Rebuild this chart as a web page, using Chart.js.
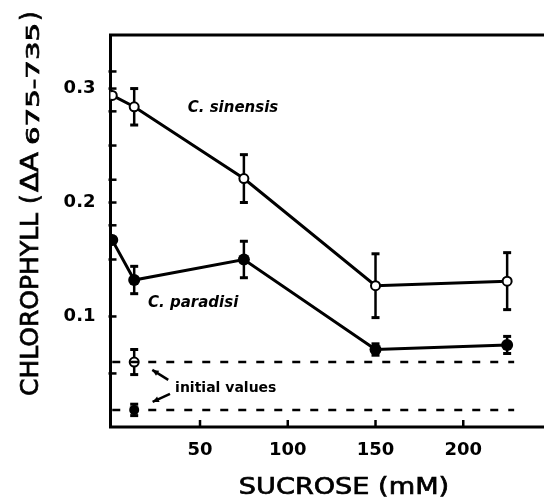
<!DOCTYPE html>
<html>
<head>
<meta charset="utf-8">
<script src="https://cdn.jsdelivr.net/npm/chart.js@4"></script>
<style>
  html, body { margin: 0; padding: 0; background: #fff; }
  #wrap { width: 544px; height: 502px; }
</style>
</head>
<body>
<div id="wrap"><canvas id="myChart"></canvas></div>
<script>
// values
var sucrose = [0, 12.5, 75, 150, 225];
var sinensis = [0.294, 0.284, 0.221, 0.127, 0.131];
var sinensisErr = [0, 0.016, 0.021, 0.028, 0.025];
var paradisi = [0.167, 0.132, 0.150, 0.071, 0.075];
var paradisiErr = [0, 0.012, 0.016, 0.005, 0.0075];

// initial values (before culture)
var initialX = [12.5];
var initialSinensis = [0.060];
var initialSinensisErr = [0.011];
var initialParadisi = [0.018];
var initialParadisiErr = [0.005];
var initialLineX = [0, 229];

// axes
var xTicks = [50, 100, 150, 200];
var yTicks = [0.1, 0.2, 0.3];
var yMarks = [0.05, 0.1, 0.15, 0.18, 0.2, 0.22, 0.25, 0.28, 0.3, 0.315];

function pts(xs, ys) {
  return xs.map(function(x, i) { return {x: x, y: ys[i]}; });
}

var datasets = [
  { data: pts(initialLineX, [initialSinensis[0], initialSinensis[0]]), borderColor: '#000', borderWidth: 2.5, borderDash: [8, 10], pointRadius: 0 },
  { data: pts(initialLineX, [initialParadisi[0], initialParadisi[0]]), borderColor: '#000', borderWidth: 2.5, borderDash: [8, 10], pointRadius: 0 },
  { data: pts(sucrose, paradisi), err: paradisiErr, borderColor: '#000', borderWidth: 3, pointRadius: 6, pointBackgroundColor: '#000', pointBorderColor: '#000', pointBorderWidth: 0 },
  { data: pts(sucrose, sinensis), err: sinensisErr, borderColor: '#000', borderWidth: 3, pointRadius: 4.5, pointBackgroundColor: '#fff', pointBorderColor: '#000', pointBorderWidth: 2 },
  { data: pts(initialX, initialSinensis), err: initialSinensisErr, showLine: false, pointRadius: 4.5, pointBackgroundColor: '#fff', pointBorderColor: '#000', pointBorderWidth: 2 },
  { data: pts(initialX, initialParadisi), err: initialParadisiErr, showLine: false, pointRadius: 5, pointBackgroundColor: '#000', pointBorderColor: '#000', pointBorderWidth: 0 }
];

// text drawn wider than the font, like the lettering of the figure
function wideText(ctx, txt, x, y, sx, align) {
  var w = ctx.measureText(txt).width * sx;
  var x0 = align === 'center' ? x - w / 2 : x;
  ctx.save();
  ctx.translate(x0, y);
  ctx.scale(sx, 1);
  ctx.textAlign = 'left';
  ctx.fillText(txt, 0, 0);
  ctx.lineWidth = 0.7;
  ctx.strokeText(txt, 0, 0);
  ctx.restore();
  return w;
}

// frame, inward tick marks and error bars
var figurePlugin = {
  id: 'figure',
  beforeDatasetsDraw: function(chart) {
    var ctx = chart.ctx, a = chart.chartArea;
    var xs = chart.scales.x, ys = chart.scales.y;
    ctx.save();
    ctx.strokeStyle = '#000';
    ctx.lineWidth = 3;
    ctx.beginPath();
    ctx.moveTo(a.right, a.top);
    ctx.lineTo(a.left, a.top);
    ctx.lineTo(a.left, a.bottom);
    ctx.lineTo(a.right, a.bottom);
    ctx.stroke();

    ctx.lineWidth = 2.5;
    xTicks.forEach(function(v) {
      var px = xs.getPixelForValue(v);
      ctx.beginPath(); ctx.moveTo(px, a.bottom); ctx.lineTo(px, a.bottom - 7); ctx.stroke();
    });
    yMarks.forEach(function(v) {
      var py = ys.getPixelForValue(v);
      ctx.beginPath(); ctx.moveTo(a.left - 2, py); ctx.lineTo(a.left + 6, py); ctx.stroke();
    });

    chart.data.datasets.forEach(function(ds) {
      if (!ds.err) return;
      ds.data.forEach(function(p, i) {
        var e = ds.err[i];
        if (!e) return;
        var px = xs.getPixelForValue(p.x);
        var y1 = ys.getPixelForValue(p.y + e), y2 = ys.getPixelForValue(p.y - e);
        ctx.lineWidth = 2.5;
        ctx.beginPath(); ctx.moveTo(px, y1); ctx.lineTo(px, y2); ctx.stroke();
        ctx.lineWidth = 3;
        ctx.beginPath(); ctx.moveTo(px - 4, y1); ctx.lineTo(px + 4, y1); ctx.stroke();
        ctx.beginPath(); ctx.moveTo(px - 4, y2); ctx.lineTo(px + 4, y2); ctx.stroke();
      });
    });
    ctx.restore();
  },
  afterDraw: function(chart) {
    var ctx = chart.ctx;
    var xs = chart.scales.x, ys = chart.scales.y;
    function X(v) { return xs.getPixelForValue(v); }
    function Y(v) { return ys.getPixelForValue(v); }
    ctx.save();
    ctx.fillStyle = '#000';
    ctx.strokeStyle = '#000';

    // curve labels
    ctx.textBaseline = 'middle';
    ctx.textAlign = 'left';
    ctx.font = 'italic bold 15px "DejaVu Sans"';
    ctx.fillText('C. sinensis', X(43), Y(0.283));
    ctx.fillText('C. paradisi', X(20.4), Y(0.112));
    ctx.font = 'bold 14px "DejaVu Sans"';
    ctx.fillText('initial values', X(35.8), Y(0.0373));

    // arrows to the initial values
    function arrow(x1, y1, x2, y2) {
      var ax = X(x1), ay = Y(y1), bx = X(x2), by = Y(y2);
      ctx.lineWidth = 2.5;
      ctx.beginPath(); ctx.moveTo(ax, ay); ctx.lineTo(bx, by); ctx.stroke();
      var ang = Math.atan2(by - ay, bx - ax);
      ctx.beginPath();
      ctx.moveTo(bx, by);
      ctx.lineTo(bx - 7 * Math.cos(ang - 0.45), by - 7 * Math.sin(ang - 0.45));
      ctx.lineTo(bx - 7 * Math.cos(ang + 0.45), by - 7 * Math.sin(ang + 0.45));
      ctx.closePath(); ctx.fill();
    }
    arrow(31.9, 0.0444, 22.8, 0.0531);
    arrow(32.9, 0.032, 23.0, 0.025);

    // x axis title
    ctx.font = '23px "DejaVu Sans"';
    wideText(ctx, 'SUCROSE (mM)', 344, 488, 1.18, 'center');

    // y axis title with subscript
    ctx.translate(38, 396);
    ctx.rotate(-Math.PI / 2);
    ctx.textBaseline = 'alphabetic';
    ctx.font = '25px "DejaVu Sans"';
    wideText(ctx, 'CHLOROPHYLL', 0, 0, 1.0, 'left');
    wideText(ctx, '(', 192, 0, 1.0, 'left');
    wideText(ctx, '\u0394A', 204, 0, 1.17, 'left');
    ctx.font = '17px "DejaVu Sans"';
    wideText(ctx, '675-735', 251, 1, 1.72, 'left');
    ctx.font = '25px "DejaVu Sans"';
    wideText(ctx, ')', 375, 0, 1.0, 'left');
    ctx.restore();
  }
};

var ctx = document.getElementById('myChart').getContext('2d');
var chart = new Chart(ctx, {
  type: 'line',
  data: { datasets: datasets },
  options: {
    responsive: true,
    maintainAspectRatio: false,
    animation: false,
    devicePixelRatio: 1,
    layout: { autoPadding: false, padding: { top: 35, right: 0, bottom: 0, left: 0 } },
    plugins: { legend: { display: false }, tooltip: { enabled: false } },
    scales: {
      x: {
        type: 'linear', min: -1, max: 246,
        grid: { display: false, drawTicks: false },
        border: { display: false },
        ticks: { color: '#000', padding: 13, font: { family: 'DejaVu Sans', size: 18, weight: 'bold' }, callback: function(v) { return String(v); } },
        afterBuildTicks: function(s) { s.ticks = xTicks.map(function(v) { return {value: v}; }); },
        afterFit: function(s) { s.height = 75; s.paddingLeft = 0; s.paddingRight = 0; }
      },
      y: {
        type: 'linear', min: 0.003, max: 0.347,
        grid: { display: false, drawTicks: false },
        border: { display: false },
        ticks: { color: '#000', padding: 15, font: { family: 'DejaVu Sans', size: 18, weight: 'bold' }, callback: function(v) { return v.toFixed(1); } },
        afterBuildTicks: function(s) { s.ticks = yTicks.map(function(v) { return {value: v}; }); },
        afterFit: function(s) { s.width = 110.5; s.paddingTop = 0; s.paddingBottom = 0; }
      }
    }
  },
  plugins: [figurePlugin]
});
</script>
</body>
</html>
